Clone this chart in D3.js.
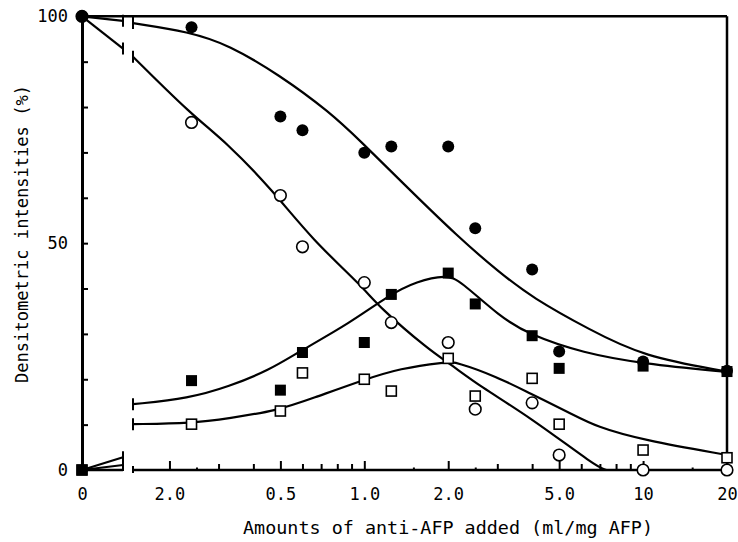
<!DOCTYPE html>
<html>
<head>
<meta charset="utf-8">
<script src="https://cdn.jsdelivr.net/npm/d3@7"></script>
<style>
  html, body { margin: 0; padding: 0; background: #fff; }
  svg { display: block; }
  text { font-family: "DejaVu Sans Mono", "Liberation Mono", monospace; fill: #000; }
</style>
</head>
<body>
<svg id="chart" width="738" height="542"></svg>
<script>
// ---- data ----
const xVals = [0, 0.24, 0.5, 0.6, 1.0, 1.25, 2.0, 2.5, 4.0, 5.0, 10, 20];
const filledCircle = [100, 97.6, 77.9, 74.9, 69.9, 71.3, 71.3, 53.3, 44.2, 26.1, 23.9, 21.9];
const openCircle   = [100, 76.6, 60.5, 49.2, 41.3, 32.5, 28.1, 13.4, 14.8, 3.3, 0, 0];
const filledSquare = [0, 19.7, 17.6, 25.9, 28.1, 38.7, 43.4, 36.6, 29.6, 22.4, 22.9, 21.7];
const openSquare   = [0, 10.1, 13.0, 21.4, 20.0, 17.4, 24.6, 16.3, 20.2, 10.1, 4.4, 2.7];

// fitted curves (log-x part, right of the axis break)
const fcCurveX = [0.148, 0.235, 0.327, 0.495, 0.749, 0.984, 1.34, 2.2, 3.06, 4.0, 6.44, 10, 20];
const fcCurveY = [98.5, 96.6, 93.7, 87.1, 79.0, 72.1, 63.9, 51.0, 43.5, 38.0, 30.9, 25.0, 21.7];
const fsCurveX = [0.148, 0.235, 0.327, 0.456, 0.584, 0.883, 1.23, 1.54, 1.97, 2.2, 3.06, 3.92, 6.08, 10, 20];
const fsCurveY = [14.5, 15.8, 18.4, 22.0, 26.1, 32.3, 38.6, 41.6, 43.0, 41.8, 33.8, 29.8, 25.8, 23.4, 21.6];
const ocCurveX = [0.148, 0.241, 0.318, 0.468, 0.652, 0.986, 1.13, 1.71, 2.02, 2.59, 3.92, 6.81, 7.39];
const ocCurveY = [91.1, 78.2, 72.4, 61.7, 50.7, 40.4, 35.9, 26.4, 23.5, 18.5, 11.7, 0.7, 0];
const osCurveX = [0.148, 0.241, 0.327, 0.488, 0.652, 0.986, 1.34, 1.97, 2.14, 2.98, 3.92, 5.46, 6.81, 10, 20];
const osCurveY = [10.1, 10.3, 11.4, 13.1, 15.8, 19.8, 22.4, 23.8, 23.8, 20.6, 16.9, 12.6, 9.5, 6.6, 3.3];

// segments from x = 0 up to the axis break (break position = 1 in the zero-segment scale)
const zeroSegX = [0, 1];
const fcZero = [100, 99.0];
const ocZero = [100, 92.9];
const fsZero = [0, 2.8];
const osZero = [0, 1.1];

// axis ticks
const xMajorTicks = [0.2, 0.5, 1, 2, 5, 10, 20];
const xMajorLabels = ["2.0", "0.5", "1.0", "2.0", "5.0", "10", "20"];
const xMinorTicks = [0.3, 0.4, 0.6, 0.7, 0.8, 0.9, 3, 4, 6, 7, 8, 9];
const xHalfTicks = [0.25, 1.5, 2.5, 15];
const yTicks = [0, 10, 20, 30, 40, 50, 60, 70, 80, 90, 100];
const yLabelTicks = [0, 50, 100];

const xTitle = "Amounts of anti-AFP added (ml/mg AFP)";
const yTitle = "Densitometric intensities (%)";

// ---- scales ----
const svg = d3.select("#chart");
const xZero = d3.scaleLinear().domain([0, 1]).range([82, 123]);
const xLog = d3.scaleLog().domain([0.148, 20]).range([133, 727]);
const y = d3.scaleLinear().domain([0, 100]).range([470, 16.3]);

// ---- frame ----
const frame = svg.append("g").attr("stroke", "#000").attr("fill", "none");
frame.append("line").attr("x1", xZero(0)).attr("x2", xLog(20)).attr("y1", y(100)).attr("y2", y(100)).attr("stroke-width", 2.5);
frame.append("line").attr("x1", xLog(20)).attr("x2", xLog(20)).attr("y1", y(100)).attr("y2", y(0)).attr("stroke-width", 2.5);
frame.append("line").attr("x1", xZero(0)).attr("x2", xZero(1)).attr("y1", y(0)).attr("y2", y(0)).attr("stroke-width", 2.5);
frame.append("line").attr("x1", xLog(0.148)).attr("x2", xLog(20)).attr("y1", y(0)).attr("y2", y(0)).attr("stroke-width", 2.5);
frame.append("line").attr("x1", xLog(0.148)).attr("x2", xLog(0.148)).attr("y1", y(0) - 4).attr("y2", y(0) + 3).attr("stroke-width", 2);

// ---- x axis ticks ----
function tickAxis(values, len, width) {
  const g = svg.append("g").attr("transform", `translate(0,${y(0)})`)
    .call(d3.axisBottom(xLog).tickValues(values).tickSizeInner(-len).tickSizeOuter(0).tickFormat(""));
  g.select(".domain").remove();
  g.selectAll(".tick line").attr("stroke", "#000").attr("stroke-width", width);
  return g;
}
tickAxis(xMinorTicks, 6, 2);
tickAxis(xHalfTicks, 2.5, 2);
const gMaj = svg.append("g").attr("transform", `translate(0,${y(0)})`)
  .call(d3.axisBottom(xLog).tickValues(xMajorTicks).tickSizeInner(-9).tickSizeOuter(0).tickPadding(18)
    .tickFormat((d, i) => xMajorLabels[i]));
gMaj.select(".domain").remove();
gMaj.selectAll(".tick line").attr("stroke", "#000").attr("stroke-width", 2);
gMaj.selectAll(".tick text").attr("font-size", 17).attr("font-family", "DejaVu Sans Mono");

const gZero = svg.append("g").attr("transform", `translate(0,${y(0)})`)
  .call(d3.axisBottom(xZero).tickValues([0]).tickSize(0).tickPadding(18).tickFormat(d3.format("d")));
gZero.select(".domain").remove();
gZero.selectAll(".tick text").attr("font-size", 17).attr("font-family", "DejaVu Sans Mono");

// ---- y axis ----
const gY = svg.append("g").attr("transform", `translate(${xZero(0)},0)`)
  .call(d3.axisLeft(y).tickValues(yTicks).tickSizeInner(-6).tickSizeOuter(0).tickPadding(14)
    .tickFormat(d => yLabelTicks.includes(d) ? d : ""));
gY.select(".domain").attr("stroke", "#000").attr("stroke-width", 3);
gY.selectAll(".tick line").attr("stroke", "#000").attr("stroke-width", 2);
gY.selectAll(".tick text").attr("font-size", 17).attr("font-family", "DejaVu Sans Mono");

// ---- titles ----
svg.append("text").attr("x", 448).attr("y", 534).attr("text-anchor", "middle")
  .attr("font-size", 18).attr("textLength", 410).attr("lengthAdjust", "spacingAndGlyphs").text(xTitle);
svg.append("text").attr("transform", "translate(28,234) rotate(-90)").attr("text-anchor", "middle")
  .attr("font-size", 17.5).attr("textLength", 298).attr("lengthAdjust", "spacingAndGlyphs").text(yTitle);

// ---- curves ----
const lineLog = d3.line().x(d => xLog(d[0])).y(d => y(d[1])).curve(d3.curveBasis);
const lineZero = d3.line().x(d => xZero(d[0])).y(d => y(d[1]));
const curves = [
  [fcCurveX, fcCurveY, fcZero],
  [fsCurveX, fsCurveY, fsZero],
  [ocCurveX, ocCurveY, ocZero],
  [osCurveX, osCurveY, osZero]
];
const gc = svg.append("g").attr("fill", "none").attr("stroke", "#000").attr("stroke-width", 2.2);
curves.forEach(([cx, cy, cz]) => {
  const pts = cx.map((v, i) => [v, cy[i]]);
  gc.append("path").attr("d", lineLog(pts));
  const zpts = zeroSegX.map((v, i) => [v, cz[i]]);
  gc.append("path").attr("d", lineZero(zpts));
  // break marks
  gc.append("line").attr("x1", xZero(1)).attr("x2", xZero(1))
    .attr("y1", y(cz[1]) - 6).attr("y2", y(cz[1]) + 6).attr("stroke-width", 2);
  gc.append("line").attr("x1", xLog(cx[0])).attr("x2", xLog(cx[0]))
    .attr("y1", y(cy[0]) - 6).attr("y2", y(cy[0]) + 6).attr("stroke-width", 2);
});

// ---- markers ----
function px(v) { return v === 0 ? xZero(0) : xLog(v); }
const gm = svg.append("g").attr("stroke", "#000");
const sq = 10;
gm.selectAll(".os").data(xVals.map((v, i) => [v, openSquare[i]])).enter().append("rect")
  .attr("x", d => px(d[0]) - sq / 2).attr("y", d => y(d[1]) - sq / 2)
  .attr("width", sq).attr("height", sq).attr("fill", "#fff").attr("stroke-width", 1.6);
gm.selectAll(".oc").data(xVals.map((v, i) => [v, openCircle[i]])).enter().append("circle")
  .attr("cx", d => px(d[0])).attr("cy", d => y(d[1])).attr("r", 5.8)
  .attr("fill", "#fff").attr("stroke-width", 1.6);
gm.selectAll(".fs").data(xVals.map((v, i) => [v, filledSquare[i]])).enter().append("rect")
  .attr("x", d => px(d[0]) - 5.5).attr("y", d => y(d[1]) - 5.5)
  .attr("width", 11).attr("height", 11).attr("fill", "#000").attr("stroke-width", 0);
gm.selectAll(".fc").data(xVals.map((v, i) => [v, filledCircle[i]])).enter().append("circle")
  .attr("cx", d => px(d[0])).attr("cy", d => y(d[1])).attr("r", 6)
  .attr("fill", "#000").attr("stroke-width", 0);
</script>
</body>
</html>
